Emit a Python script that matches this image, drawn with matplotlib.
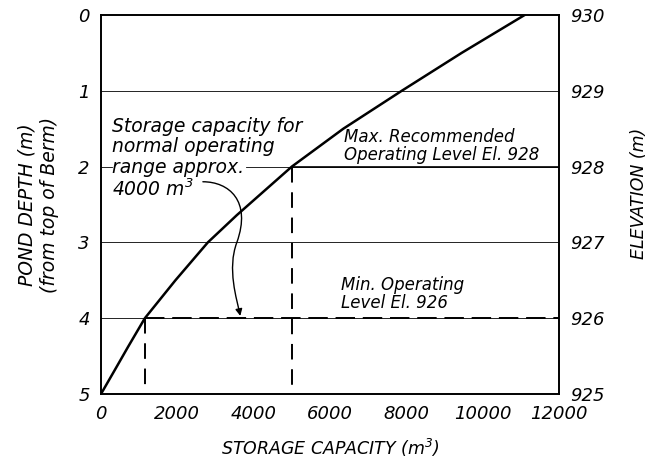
import matplotlib
matplotlib.use("Agg")
import matplotlib.pyplot as plt
from matplotlib.patches import FancyArrowPatch
from matplotlib.path import Path

# кривая ёмкости пруда
capacity = [0, 366, 707, 1150, 1950, 2800, 3560, 5000, 6350, 7880, 9450, 11100]
depth = [5, 4.68, 4.38, 4.0, 3.5, 3.0, 2.64, 2.0, 1.5, 1.0, 0.5, 0]

x_ticks = [0, 2000, 4000, 6000, 8000, 10000, 12000]
depth_ticks = [0, 1, 2, 3, 4, 5]
elev_ticks = [930, 929, 928, 927, 926, 925]

max_level_depth = 2.0
min_level_depth = 4.0
cap_at_max = 5000
cap_at_min = 1150

plt.rcParams['font.family'] = ['DejaVu Sans']
plt.rcParams['font.style'] = 'italic'

fig = plt.figure(figsize=(6.54, 4.66), dpi=100)
ax = fig.add_axes([0.1544, 0.1545, 0.7003, 0.8133])

ax.set_xlim(0, 12000)
ax.set_ylim(5, 0)

# тонкие линии сетки (на глубине 2 прерывается надписью)
for d in [1, 3, 4]:
    ax.axhline(d, color='black', lw=0.6, zorder=1)
ax.plot([0, 290], [2, 2], color='black', lw=0.6, zorder=1)
ax.plot([3800, 12000], [2, 2], color='black', lw=0.6, zorder=1)

ax.plot(capacity, depth, color='black', lw=1.8, zorder=3)

# уровни
ax.plot([cap_at_max, 12000], [max_level_depth, max_level_depth], color='black', lw=1.2, zorder=2)
ax.plot([cap_at_min, 12000], [min_level_depth, min_level_depth], color='black', lw=1.4,
        ls=(0, (10, 4)), zorder=2)
ax.plot([cap_at_max, cap_at_max], [max_level_depth, 5], color='black', lw=1.4,
        ls=(0, (8, 5)), zorder=2)
ax.plot([cap_at_min, cap_at_min], [min_level_depth, 5], color='black', lw=1.4,
        ls=(0, (8, 5)), zorder=2)

ax.set_xticks(x_ticks)
ax.set_xticklabels([str(v) for v in x_ticks], fontsize=13)
ax.set_yticks(depth_ticks)
ax.set_yticklabels([str(v) for v in depth_ticks], fontsize=13)
ax.tick_params(length=0, pad=8)

ax.set_xlabel('STORAGE CAPACITY (m$^3$)', fontsize=12.5, labelpad=10)
ax.set_ylabel('POND DEPTH (m)\n(from top of Berm)', fontsize=13.5, labelpad=14,
              linespacing=1.25)

ax2 = ax.twinx()
ax2.set_ylim(925, 930)
ax2.set_yticks(elev_ticks)
ax2.set_yticklabels([str(v) for v in elev_ticks], fontsize=13)
ax2.tick_params(length=0, pad=8)
ax2.set_ylabel('ELEVATION (m)', fontsize=12.5)
ax2.yaxis.set_label_coords(1.155, 0.53)

for a in (ax, ax2):
    for s in a.spines.values():
        s.set_linewidth(1.2)

ax.text(300, 1.34, 'Storage capacity for\nnormal operating\nrange approx.\n4000 m$^3$',
        fontsize=13.5, va='top', ha='left', linespacing=1.1)
ax.text(6380, 1.97, 'Max. Recommended\nOperating Level El. 928',
        fontsize=12, va='bottom', ha='left', linespacing=1.0)
ax.text(6300, 3.92, 'Min. Operating\nLevel El. 926',
        fontsize=12, va='bottom', ha='left', linespacing=1.0)

# S-образная стрелка к диапазону
arrow_path = Path([(2670, 2.20), (3350, 2.20), (3950, 2.45), (3560, 3.0),
                   (3300, 3.35), (3560, 3.75), (3650, 3.97)],
                  [Path.MOVETO, Path.CURVE4, Path.CURVE4, Path.CURVE4,
                   Path.CURVE4, Path.CURVE4, Path.CURVE4])
arrow = FancyArrowPatch(path=arrow_path, arrowstyle='-|>', mutation_scale=10,
                        color='black', lw=1.0, zorder=5, transform=ax.transData)
ax.add_patch(arrow)

fig.savefig('out.png', dpi=100)
